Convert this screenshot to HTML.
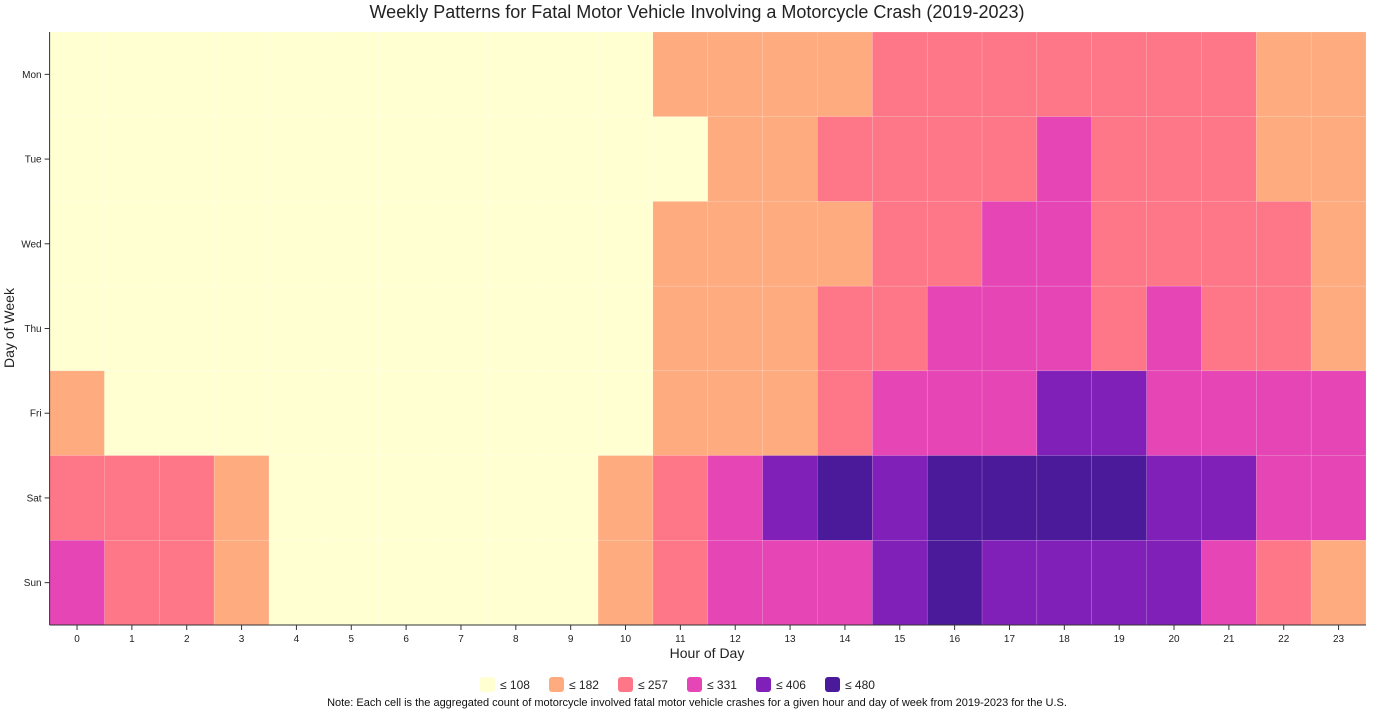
<!DOCTYPE html>
<html><head><meta charset="utf-8"><style>
body{margin:0;background:#fff;font-family:"Liberation Sans",Arial,sans-serif}
svg{display:block}
</style></head><body>
<svg id="chart" width="1394" height="721">
<text x="697" y="18" text-anchor="middle" font-size="18" fill="#222">Weekly Patterns for Fatal Motor Vehicle Involving a Motorcycle Crash (2019-2023)</text>
<g id="cells"></g>
<g id="axes"></g>
<text x="707" y="658" text-anchor="middle" font-size="14" fill="#222">Hour of Day</text>
<text transform="translate(14,328) rotate(-90)" text-anchor="middle" font-size="14" fill="#222">Day of Week</text>
<g id="legend"></g>
<text x="697" y="706" text-anchor="middle" font-size="11" fill="#111">Note: Each cell is the aggregated count of motorcycle involved fatal motor vehicle crashes for a given hour and day of week from 2019-2023 for the U.S.</text>
</svg>
<script>
const days=["Mon","Tue","Wed","Thu","Fri","Sat","Sun"];
const hours=["0","1","2","3","4","5","6","7","8","9","10","11","12","13","14","15","16","17","18","19","20","21","22","23"];
const thresholds=[108,182,257,331,406,480];
const colors=["#ffffd2","#feab80","#fe7788","#e545b5","#8120b8","#4a1a9a"];
const monVals=[40,35,30,28,30,45,60,70,80,90,100,150,165,170,175,230,240,235,240,245,240,235,170,150];
const tueVals=[38,33,30,28,30,45,60,70,80,90,100,105,160,170,220,235,240,240,300,245,240,235,170,150];
const wedVals=[38,33,30,28,30,45,60,70,80,90,100,150,165,170,175,230,240,300,310,245,240,235,230,160];
const thuVals=[40,35,30,28,30,45,60,70,80,90,100,150,165,170,230,235,300,310,320,250,300,240,230,170];
const friVals=[120,95,80,60,50,50,60,70,80,90,100,150,165,175,230,300,320,320,380,390,320,320,310,300];
const satVals=[220,200,190,140,100,70,60,60,70,90,150,230,300,390,450,400,460,470,470,470,390,380,310,300];
const sunVals=[280,230,210,150,100,70,60,60,70,90,140,220,300,310,320,380,440,390,380,390,380,300,230,170];
const grid=[monVals,tueVals,wedVals,thuVals,friVals,satVals,sunVals];
const L=49.6,R=1366,T=32,B=625;
const cw=(R-L)/hours.length,ch=(B-T)/days.length;
const xPos=i=>L+i*cw, yPos=j=>T+j*ch;
function colorFor(v){for(let k=0;k<thresholds.length;k++){if(v<=thresholds[k])return colors[k];}return colors[colors.length-1];}
const NS="http://www.w3.org/2000/svg";
const cells=document.getElementById('cells');
grid.forEach((row,j)=>row.forEach((v,i)=>{
  const r=document.createElementNS(NS,'rect');
  r.setAttribute('x',xPos(i));r.setAttribute('y',yPos(j));
  r.setAttribute('width',cw);r.setAttribute('height',ch);
  r.setAttribute('fill',colorFor(v));r.setAttribute('stroke','rgba(255,255,255,0.25)');r.setAttribute('stroke-width','0.5');
  
  
  cells.appendChild(r);
}));
const axes=document.getElementById('axes');
let a='<line x1="'+L+'" y1="'+B+'" x2="'+R+'" y2="'+B+'" stroke="#333" stroke-width="1"/>';
a+='<line x1="'+L+'" y1="'+T+'" x2="'+L+'" y2="'+B+'" stroke="#333" stroke-width="1"/>';
hours.forEach((h,i)=>{const x=xPos(i)+cw/2;a+='<line x1="'+x+'" y1="'+B+'" x2="'+x+'" y2="'+(B+5)+'" stroke="#333"/><text x="'+x+'" y="'+(B+17)+'" text-anchor="middle" font-size="10" fill="#222">'+h+'</text>';});
days.forEach((d,j)=>{const y=yPos(j)+ch/2;a+='<line x1="'+(L-5)+'" y1="'+y+'" x2="'+L+'" y2="'+y+'" stroke="#333"/><text x="'+(L-8)+'" y="'+(y+3.5)+'" text-anchor="end" font-size="10" fill="#222">'+d+'</text>';});
axes.innerHTML=a;


const leg=document.getElementById('legend');
thresholds.forEach((t,k)=>{
  const g=document.createElementNS(NS,'g');
  
  
  const x=480+k*69;
  g.innerHTML='<rect x="'+x+'" y="677" width="15" height="15" rx="3" fill="'+colors[k]+'"/><text x="'+(x+20)+'" y="689" font-size="12" fill="#222">≤ '+t+'</text>';
  leg.appendChild(g);
});
</script>
</body></html>
